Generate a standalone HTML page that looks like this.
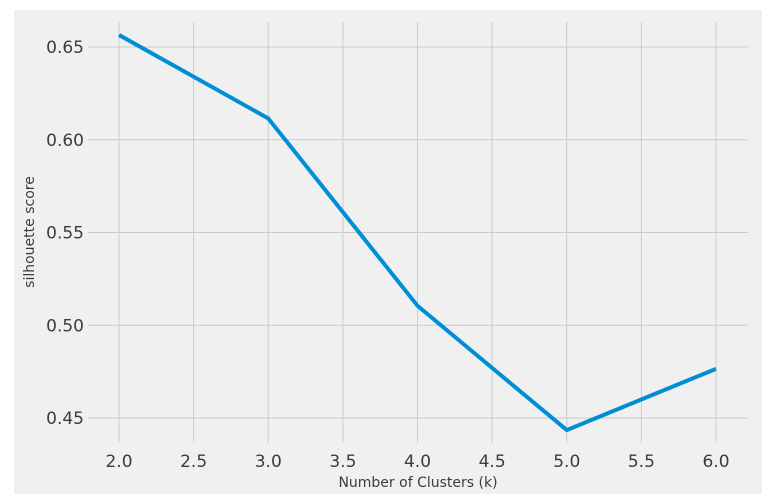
<!DOCTYPE html>
<html><head><meta charset="utf-8"><style>
html,body{margin:0;padding:0;background:#fff;width:762px;height:502px;overflow:hidden}
svg{display:block}
text{font-family:"DejaVu Sans","Liberation Sans",sans-serif;fill:#3c3c3c}
</style></head><body>
<svg id="chart" width="762" height="502" xmlns="http://www.w3.org/2000/svg">
<rect x="14" y="10" width="748" height="484" fill="#f0f0f0"/>
<g id="grid"></g><g id="ticks"></g><g id="series"></g>
<text x="0" y="0" font-size="14" text-anchor="middle" transform="translate(34,232) rotate(-90)">silhouette score</text>
<text x="418" y="487" font-size="14" text-anchor="middle">Number of Clusters (k)</text>
</svg>
<script>
const clusters=[2,3,4,5,6];
const scores=[0.6565,0.6115,0.5105,0.4435,0.4765];
const xTicks=[2.0,2.5,3.0,3.5,4.0,4.5,5.0,5.5,6.0];
const yTicks=[0.45,0.50,0.55,0.60,0.65];
const NS="http://www.w3.org/2000/svg";
const X=v=>119+(v-2)*149.25;
const Y=v=>47+(0.65-v)*1855;
function mk(tag,attrs,parent){const e=document.createElementNS(NS,tag);for(const k in attrs)e.setAttribute(k,attrs[k]);parent.appendChild(e);return e;}
const grid=document.getElementById('grid'),ticks=document.getElementById('ticks'),series=document.getElementById('series');
xTicks.forEach(t=>{
  const l=mk('line',{x1:X(t),x2:X(t),y1:22,y2:443,stroke:'#cbcbcb','stroke-width':1},grid);
  
  
  const tx=mk('text',{x:X(t),y:467,'font-size':17,'text-anchor':'middle'},ticks);
  tx.textContent=t.toFixed(1);
  
  
});
yTicks.forEach(t=>{
  const l=mk('line',{x1:88,x2:748,y1:Y(t),y2:Y(t),stroke:'#cbcbcb','stroke-width':1},grid);
  
  
  const tx=mk('text',{x:84,y:Y(t)+6,'font-size':17,'text-anchor':'end'},ticks);
  tx.textContent=t.toFixed(2);
  
  
});
const p=mk('polyline',{points:clusters.map((c,i)=>X(c)+','+Y(scores[i])).join(' '),fill:'none',stroke:'#008fd5','stroke-width':4,'stroke-linejoin':'miter'},series);


</script>
</body></html>
